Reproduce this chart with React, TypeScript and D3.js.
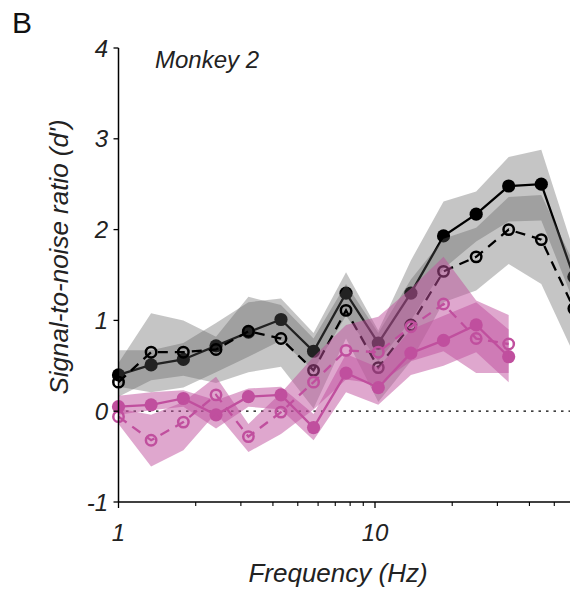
import React, { useEffect, useRef } from "react";
import * as d3 from "d3";

// Frequencies (Hz), log-spaced
const freqs = [1, 1.34, 1.79, 2.4, 3.21, 4.3, 5.76, 7.71, 10.3, 13.8, 18.5, 24.8, 33.2, 44.5, 59.6];

// Black, filled markers (solid line)
const blackFilled = [0.40, 0.51, 0.57, 0.72, 0.87, 1.01, 0.66, 1.30, 0.75, 1.30, 1.93, 2.17, 2.48, 2.50, 1.48];
const blackFilledLo = [0.27, 0.21, 0.26, 0.43, 0.60, 0.78, 0.45, 1.05, 0.55, 1.00, 1.57, 1.87, 2.09, 2.10, 1.20];
const blackFilledHi = [0.67, 0.67, 0.75, 0.97, 1.20, 1.24, 0.86, 1.53, 0.89, 1.66, 2.31, 2.42, 2.80, 2.88, 1.76];

// Black, open markers (dashed line)
const blackOpen = [0.32, 0.65, 0.65, 0.68, 0.88, 0.80, 0.45, 1.11, 0.48, 0.95, 1.54, 1.70, 2.00, 1.89, 1.13];
const blackOpenLo = [0.16, 0.34, 0.39, 0.31, 0.43, 0.49, 0.03, 0.80, 0.10, 0.55, 1.20, 1.33, 1.62, 1.40, 0.63];
const blackOpenHi = [0.53, 1.08, 1.00, 0.82, 1.26, 1.17, 0.80, 1.40, 0.86, 1.45, 1.90, 2.02, 2.36, 2.38, 1.63];

// Magenta, filled markers (solid line)
const pinkFilled = [0.05, 0.07, 0.14, -0.04, 0.16, 0.18, -0.18, 0.42, 0.26, 0.64, 0.78, 0.95, 0.60];
const pinkFilledLo = [-0.04, 0.01, 0.05, -0.19, 0.05, 0.02, -0.32, 0.21, 0.07, 0.40, 0.50, 0.65, 0.32];
const pinkFilledHi = [0.17, 0.21, 0.23, 0.12, 0.25, 0.27, -0.03, 0.63, 0.48, 0.90, 1.05, 1.20, 0.90];

// Magenta, open markers (dashed line)
const pinkOpen = [-0.06, -0.32, -0.12, 0.18, -0.28, -0.01, 0.32, 0.67, 0.65, 0.93, 1.18, 0.80, 0.74];
const pinkOpenLo = [-0.14, -0.61, -0.43, -0.02, -0.45, -0.25, 0.02, 0.35, 0.30, 0.55, 0.66, 0.42, 0.42];
const pinkOpenHi = [0.03, -0.04, 0.10, 0.38, -0.14, 0.20, 0.60, 0.95, 1.04, 1.35, 1.70, 1.22, 1.06];

const yTicks = [-1, 0, 1, 2, 3, 4];
const xMajorTicks = [1, 10];
const xMinorTicks = [2, 3, 4, 5, 6, 7, 8, 9, 20, 30, 40, 50, 60, 70, 80, 90];

const FONT = "'Liberation Sans', Arial, Helvetica, sans-serif";
const PINK = "#c04f9e";

export default function App() {
  const ref = useRef<SVGSVGElement>(null);

  useEffect(() => {
    const svg = d3.select(ref.current);
    svg.selectAll("*").remove();

    const x = d3.scaleLog().domain([1, 100]).range([118.5, 631.5]);
    const y = d3.scaleLinear().domain([-1, 4]).range([502, 48]);

    const g = svg.append("g");

    // zero reference line
    g.append("line")
      .attr("x1", x(1)).attr("x2", x(100))
      .attr("y1", y(0)).attr("y2", y(0))
      .attr("stroke", "#000").attr("stroke-width", 1.2)
      .attr("stroke-dasharray", "2.5,5");

    type Series = {
      mean: number[]; lo: number[]; hi: number[];
      color: string; bandColor: string; bandOpacity: number;
      dashed: boolean; filled: boolean;
    };

    const series: Series[] = [
      { mean: blackFilled, lo: blackFilledLo, hi: blackFilledHi, color: "#000", bandColor: "#5e5e5e", bandOpacity: 0.36, dashed: false, filled: true },
      { mean: blackOpen, lo: blackOpenLo, hi: blackOpenHi, color: "#000", bandColor: "#5e5e5e", bandOpacity: 0.36, dashed: true, filled: false },
      { mean: pinkFilled, lo: pinkFilledLo, hi: pinkFilledHi, color: PINK, bandColor: PINK, bandOpacity: 0.5, dashed: false, filled: true },
      { mean: pinkOpen, lo: pinkOpenLo, hi: pinkOpenHi, color: PINK, bandColor: PINK, bandOpacity: 0.5, dashed: true, filled: false },
    ];

    series.forEach((s) => {
      const idx = s.mean.map((_, i) => i);
      const area = d3.area<number>()
        .x((i) => x(freqs[i]))
        .y0((i) => y(s.lo[i]))
        .y1((i) => y(s.hi[i]));
      g.append("path")
        .attr("d", area(idx) as string)
        .attr("fill", s.bandColor)
        .attr("fill-opacity", s.bandOpacity);

      const line = d3.line<number>()
        .x((i) => x(freqs[i]))
        .y((i) => y(s.mean[i]));
      g.append("path")
        .attr("d", line(idx) as string)
        .attr("fill", "none")
        .attr("stroke", s.color)
        .attr("stroke-width", 2.3)
        .attr("stroke-dasharray", s.dashed ? "10,7" : null);

      g.selectAll(null)
        .data(idx)
        .enter()
        .append("circle")
        .attr("cx", (i) => x(freqs[i]))
        .attr("cy", (i) => y(s.mean[i]))
        .attr("r", s.filled ? 6.6 : 5.2)
        .attr("fill", s.filled ? s.color : "none")
        .attr("stroke", s.filled ? "none" : s.color)
        .attr("stroke-width", 2.5);
    });

    // Axes
    const ax = svg.append("g").attr("stroke", "#000");
    ax.append("line")
      .attr("x1", x(1)).attr("x2", x(1))
      .attr("y1", y(4)).attr("y2", y(-1))
      .attr("stroke-width", 1.5);
    ax.append("line")
      .attr("x1", x(1)).attr("x2", x(100))
      .attr("y1", y(-1)).attr("y2", y(-1))
      .attr("stroke-width", 1.5);

    yTicks.forEach((t) => {
      ax.append("line")
        .attr("x1", x(1) - 5).attr("x2", x(1))
        .attr("y1", y(t)).attr("y2", y(t))
        .attr("stroke-width", 1.3);
      svg.append("text")
        .attr("x", 108)
        .attr("y", y(t))
        .attr("dy", "0.36em")
        .attr("text-anchor", "end")
        .attr("font-family", FONT)
        .attr("font-style", "italic")
        .attr("font-size", 24)
        .attr("fill", "#222")
        .text(String(t));
    });

    xMajorTicks.forEach((t) => {
      ax.append("line")
        .attr("x1", x(t)).attr("x2", x(t))
        .attr("y1", y(-1)).attr("y2", y(-1) + 6)
        .attr("stroke-width", 1.3);
      svg.append("text")
        .attr("x", x(t))
        .attr("y", 541)
        .attr("text-anchor", "middle")
        .attr("font-family", FONT)
        .attr("font-style", "italic")
        .attr("font-size", 24)
        .attr("fill", "#222")
        .text(String(t));
    });
    xMinorTicks.forEach((t) => {
      ax.append("line")
        .attr("x1", x(t)).attr("x2", x(t))
        .attr("y1", y(-1)).attr("y2", y(-1) + 4)
        .attr("stroke-width", 1.1);
    });

    // Titles
    svg.append("text")
      .attr("x", 338).attr("y", 582)
      .attr("text-anchor", "middle")
      .attr("font-family", FONT).attr("font-style", "italic")
      .attr("font-size", 26).attr("fill", "#222")
      .text("Frequency (Hz)");

    svg.append("text")
      .attr("transform", "translate(68,257) rotate(-90)")
      .attr("text-anchor", "middle")
      .attr("font-family", FONT).attr("font-style", "italic")
      .attr("font-size", 26).attr("fill", "#222")
      .text("Signal-to-noise ratio (d')");

    svg.append("text")
      .attr("x", 155).attr("y", 68)
      .attr("font-family", FONT).attr("font-style", "italic")
      .attr("font-size", 24).attr("fill", "#222")
      .text("Monkey 2");

    svg.append("text")
      .attr("x", 12).attr("y", 33)
      .attr("font-family", FONT)
      .attr("font-size", 30).attr("fill", "#111")
      .text("B");
  }, []);

  return (
    <svg
      ref={ref}
      width={570}
      height={594}
      style={{ position: "absolute", left: 0, top: 0, background: "#fff" }}
    />
  );
}
